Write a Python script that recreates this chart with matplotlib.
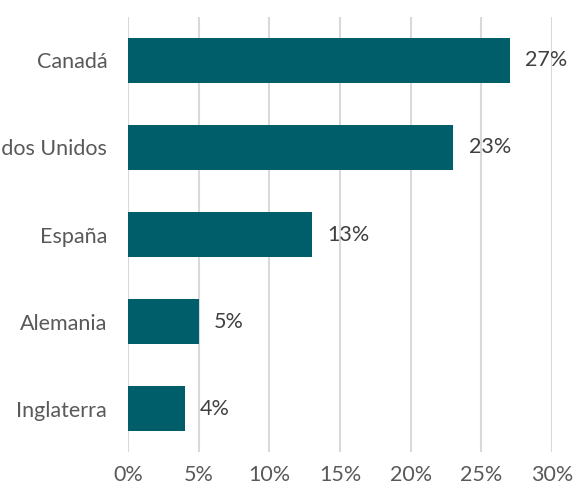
import matplotlib.pyplot as plt
from matplotlib.ticker import FuncFormatter

paises = ["Canadá", "Estados Unidos", "España", "Alemania", "Inglaterra"]
valores = [27, 23, 13, 5, 4]
xticks = [0, 5, 10, 15, 20, 25, 30]

plt.rcParams['font.family'] = ['Lato', 'DejaVu Sans']

fig = plt.figure(figsize=(5.74, 4.94), dpi=100)
ax = fig.add_axes([0.223, 0.085, 0.7387, 0.8806])

ypos = list(range(len(paises)))
ax.barh(ypos, valores, height=0.51, color="#005E6A", zorder=3)
ax.set_ylim(len(paises) - 0.5, -0.5)
ax.set_xlim(0, 30)

for y, v in zip(ypos, valores):
    ax.text(v + 1.1, y, f"{v}%", va="center", ha="left", fontsize=15.5, color="#404040", zorder=4)

ax.set_yticks(ypos)
ax.set_yticklabels(paises, fontsize=15.5, color="#595959")
ax.set_xticks(xticks)
ax.xaxis.set_major_formatter(FuncFormatter(lambda x, _: f"{x:.0f}%"))
ax.tick_params(axis="x", labelsize=15.5, labelcolor="#595959", length=0, pad=9)
ax.tick_params(axis="y", length=0, pad=15)

ax.grid(axis="x", color="#D9D9D9", linewidth=1.5, zorder=0)
for s in ax.spines.values():
    s.set_visible(False)

fig.savefig("out.png", dpi=100)
